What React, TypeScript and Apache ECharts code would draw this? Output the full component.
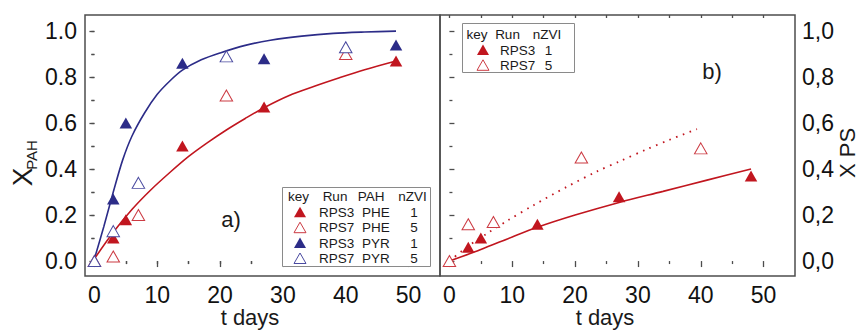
import React, { useEffect, useRef } from "react";
import * as echarts from "echarts";

// ---------- data ----------
// Panel a) PAH conversion
const daysRPS3 = [3, 5, 14, 27, 48];
const daysRPS7 = [0, 3, 7, 21, 40];
const pheRPS3 = [0.10, 0.18, 0.50, 0.67, 0.87];
const pheRPS7 = [0.0, 0.02, 0.20, 0.72, 0.90];
const pyrRPS3 = [0.27, 0.60, 0.86, 0.88, 0.94];
const pyrRPS7 = [0.0, 0.13, 0.34, 0.89, 0.93];
// fitted curves in panel a) (points read along the drawn curves)
const pyrFitT = [0, 1.5, 3, 4.5, 6, 8, 10, 12, 14, 17, 20, 24, 28, 33, 38, 43, 48];
const pyrFitY = [0.01, 0.15, 0.3, 0.44, 0.545, 0.645, 0.725, 0.783, 0.83, 0.875, 0.905, 0.938, 0.96, 0.978, 0.99, 0.996, 1.0];
const pheFitT = [0, 3, 6, 9, 12, 15, 18, 21, 24, 27, 31, 35, 39, 43, 48];
const pheFitY = [0.01, 0.125, 0.225, 0.31, 0.385, 0.455, 0.515, 0.57, 0.62, 0.667, 0.72, 0.76, 0.797, 0.832, 0.87];
// Panel b) PS conversion
const psRPS3 = [0.06, 0.10, 0.16, 0.28, 0.37];
const psRPS7 = [0.0, 0.16, 0.17, 0.45, 0.49];
const psFit3T = [0, 5, 10, 14, 20, 27, 34, 41, 48];
const psFit3Y = [0, 0.05, 0.105, 0.147, 0.2, 0.255, 0.303, 0.352, 0.4];
const psFit7T = [0, 3, 6, 9.2, 13.4, 18.7, 23.5, 27.2, 31.4, 35, 39.4];
const psFit7Y = [0, 0.065, 0.12, 0.175, 0.243, 0.323, 0.39, 0.435, 0.486, 0.527, 0.574];
// ticks
const xMajor = [0, 10, 20, 30, 40, 50];
const xMinor = [5, 15, 25, 35, 45];
const xTop = [0, 5, 10, 15, 20, 25, 30, 35, 40, 45, 50];
const yMajor = [0, 0.2, 0.4, 0.6, 0.8, 1.0];
const yMinor = [0.1, 0.3, 0.5, 0.7, 0.9];
const yAll = [0, 0.1, 0.2, 0.3, 0.4, 0.5, 0.6, 0.7, 0.8, 0.9, 1.0];
// legend tables
const legendA = [
  { run: "RPS3", pah: "PHE", nzvi: "1", color: "red", filled: true },
  { run: "RPS7", pah: "PHE", nzvi: "5", color: "red", filled: false },
  { run: "RPS3", pah: "PYR", nzvi: "1", color: "blue", filled: true },
  { run: "RPS7", pah: "PYR", nzvi: "5", color: "blue", filled: false },
];
const legendB = [
  { run: "RPS3", nzvi: "1", filled: true },
  { run: "RPS7", nzvi: "5", filled: false },
];

const RED = "#c1161f";
const RED_O = "#cc3b43";
const BLUE = "#2c2c88";
const BLUE_O = "#4a4aa0";
const FRAME = "#4d4d4d";
const FONT = '"Liberation Sans", Arial, sans-serif';
const NARROW = '"Liberation Sans Narrow", "Arial Narrow", "Liberation Sans", Arial, sans-serif';

const X_MIN = -1.5;
const X_MAX = 55;
const Y_MIN = -0.065;
const Y_MAX = 1.07;

const zip = (a: number[], b: number[]) => a.map((v, i) => [v, b[i]]);

function tri(cx: number, cy: number, filled: boolean, color: string) {
  return {
    type: "polygon",
    shape: { points: [[cx - 6, cy + 5], [cx + 6, cy + 5], [cx, cy - 5.5]] },
    style: filled ? { fill: color } : { fill: "#fff", stroke: color, lineWidth: 1 },
    z: 100,
  };
}

function txt(x: number, y: number, text: string, opts: any = {}) {
  return {
    type: "text",
    x,
    y,
    z: 100,
    style: {
      text,
      fill: "#1a1a1a",
      font: `${opts.size || 13.5}px ${opts.family || NARROW}`,
      textAlign: opts.align || "center",
      textVerticalAlign: "middle",
    },
    rotation: opts.rotation || 0,
  };
}

export default function App() {
  const ref = useRef<HTMLDivElement>(null);
  useEffect(() => {
    if (!ref.current) return;
    const chart = echarts.init(ref.current, null, { renderer: "svg" });

    const baseX = (grid: number) => ({
      type: "value",
      gridIndex: grid,
      min: X_MIN,
      max: X_MAX,
      splitLine: { show: false },
      axisLine: { show: false },
    });
    const baseY = (grid: number) => ({
      type: "value",
      gridIndex: grid,
      min: Y_MIN,
      max: Y_MAX,
      splitLine: { show: false },
      axisLine: { show: false },
    });
    const labelStyle = { fontSize: 23, color: "#111", fontFamily: FONT, margin: 8 };

    const xAxes: any[] = [];
    const yAxes: any[] = [];
    for (const g of [0, 1]) {
      xAxes.push({
        ...baseX(g),
        position: "bottom",
        axisTick: { show: true, customValues: xMajor, length: 6, lineStyle: { color: FRAME, width: 1.3 } },
        axisLabel: { ...labelStyle, margin: 7, customValues: xMajor, formatter: (v: number) => String(v) },
      });
      xAxes.push({
        ...baseX(g),
        position: "bottom",
        axisTick: { show: true, customValues: xMinor, length: 3, lineStyle: { color: FRAME, width: 1.3 } },
        axisLabel: { show: false },
      });
      xAxes.push({
        ...baseX(g),
        position: "top",
        axisTick: { show: true, inside: true, customValues: xTop, length: 3, lineStyle: { color: FRAME, width: 1.3 } },
        axisLabel: { show: false },
      });
    }
    // grid 0 y axes
    yAxes.push({
      ...baseY(0),
      position: "left",
      axisTick: { show: true, customValues: yMajor, length: 5, lineStyle: { color: FRAME, width: 1.3 } },
      axisLabel: { ...labelStyle, customValues: yMajor, formatter: (v: number) => v.toFixed(1) },
    });
    yAxes.push({
      ...baseY(0),
      position: "left",
      axisTick: { show: true, customValues: yMinor, length: 3, lineStyle: { color: FRAME, width: 1.3 } },
      axisLabel: { show: false },
    });
    yAxes.push({
      ...baseY(0),
      position: "right",
      axisTick: { show: true, inside: true, customValues: yAll, length: 3, lineStyle: { color: FRAME, width: 1.3 } },
      axisLabel: { show: false },
    });
    // grid 1 y axes
    yAxes.push({
      ...baseY(1),
      position: "right",
      axisTick: { show: true, customValues: yMajor, length: 5, lineStyle: { color: FRAME, width: 1.3 } },
      axisLabel: { ...labelStyle, margin: 7, customValues: yMajor, formatter: (v: number) => v.toFixed(1).replace(".", ",") },
    });
    yAxes.push({
      ...baseY(1),
      position: "right",
      axisTick: { show: true, customValues: yMinor, length: 3, lineStyle: { color: FRAME, width: 1.3 } },
      axisLabel: { show: false },
    });

    const line = (x: number, y: number, t: number[], v: number[], color: string, dotted = false) => ({
      type: "line",
      xAxisIndex: x,
      yAxisIndex: y,
      data: zip(t, v),
      showSymbol: false,
      smooth: 0.3,
      z: 2,
      lineStyle: dotted
        ? { color, width: 1.8, type: [1.6, 5.6] }
        : { color, width: 1.6 },
    });
    const pts = (x: number, y: number, t: number[], v: number[], color: string, filled: boolean) => ({
      type: "scatter",
      xAxisIndex: x,
      yAxisIndex: y,
      data: zip(t, v),
      symbol: "triangle",
      symbolSize: [12.5, 11],
      z: 5,
      itemStyle: filled
        ? { color, opacity: 1 }
        : { color: "#fff", borderColor: color, borderWidth: 1, opacity: 1 },
    });

    const graphic: any[] = [];
    // axis titles
    graphic.push(txt(250, 317, "t days", { size: 22, family: FONT }));
    graphic.push(txt(605, 317, "t days", { size: 22, family: FONT }));
    graphic.push(txt(22, 177, "X", { size: 28, family: FONT, rotation: Math.PI / 2 }));
    graphic.push(txt(31, 155, "PAH", { size: 15, family: NARROW, rotation: Math.PI / 2 }));
    graphic.push(txt(847, 153, "X PS", { size: 22, family: FONT, rotation: Math.PI / 2 }));
    graphic.push(txt(231, 219, "a)", { size: 22, family: FONT }));
    graphic.push(txt(712, 71, "b)", { size: 22, family: FONT }));

    // legend a)
    graphic.push({
      type: "rect",
      shape: { x: 282.5, y: 187.5, width: 148, height: 79 },
      style: { fill: "#fff", stroke: "#8a8a8a", lineWidth: 1 },
      z: 90,
    });
    const hA = 196.5;
    graphic.push(txt(298.5, hA, "key"));
    graphic.push(txt(335, hA, "Run"));
    graphic.push(txt(371, hA, "PAH"));
    graphic.push(txt(412.5, hA, "nZVI"));
    legendA.forEach((r, i) => {
      const y = 212.3 + i * 15.4;
      const c = r.color === "red" ? (r.filled ? RED : RED_O) : r.filled ? BLUE : BLUE_O;
      graphic.push(tri(300, y, r.filled, c));
      graphic.push(txt(319, y, r.run, { align: "left" }));
      graphic.push(txt(362, y, r.pah, { align: "left" }));
      graphic.push(txt(414, y, r.nzvi));
    });

    // legend b)
    graphic.push({
      type: "rect",
      shape: { x: 462.5, y: 23.5, width: 112, height: 49 },
      style: { fill: "#fff", stroke: "#8a8a8a", lineWidth: 1 },
      z: 90,
    });
    graphic.push(txt(477, 34, "key"));
    graphic.push(txt(507.5, 34, "Run"));
    graphic.push(txt(547, 34, "nZVI"));
    legendB.forEach((r, i) => {
      const y = 50 + i * 15.3;
      graphic.push(tri(483, y, r.filled, r.filled ? RED : RED_O));
      graphic.push(txt(500, y, r.run, { align: "left" }));
      graphic.push(txt(548.5, y, r.nzvi));
    });

    chart.setOption({
      animation: false,
      backgroundColor: "#fff",
      textStyle: { fontFamily: FONT },
      grid: [
        { left: 85, top: 15, width: 355, height: 261, show: true, borderColor: FRAME, borderWidth: 1.5, containLabel: false },
        { left: 440, top: 15, width: 355, height: 261, show: true, borderColor: FRAME, borderWidth: 1.5, containLabel: false },
      ],
      xAxis: xAxes,
      yAxis: yAxes,
      series: [
        line(0, 0, pyrFitT, pyrFitY, BLUE),
        line(0, 0, pheFitT, pheFitY, RED),
        pts(0, 0, daysRPS7, pheRPS7, RED_O, false),
        pts(0, 0, daysRPS3, pheRPS3, RED, true),
        pts(0, 0, daysRPS3, pyrRPS3, BLUE, true),
        pts(0, 0, daysRPS7, pyrRPS7, BLUE_O, false),
        line(3, 3, psFit3T, psFit3Y, RED),
        line(3, 3, psFit7T, psFit7Y, RED, true),
        pts(3, 3, daysRPS3, psRPS3, RED, true),
        pts(3, 3, daysRPS7, psRPS7, RED_O, false),
      ],
      graphic,
    });
    return () => chart.dispose();
  }, []);
  return <div ref={ref} style={{ width: 859, height: 330, position: "absolute", left: 0, top: 0 }} />;
}
